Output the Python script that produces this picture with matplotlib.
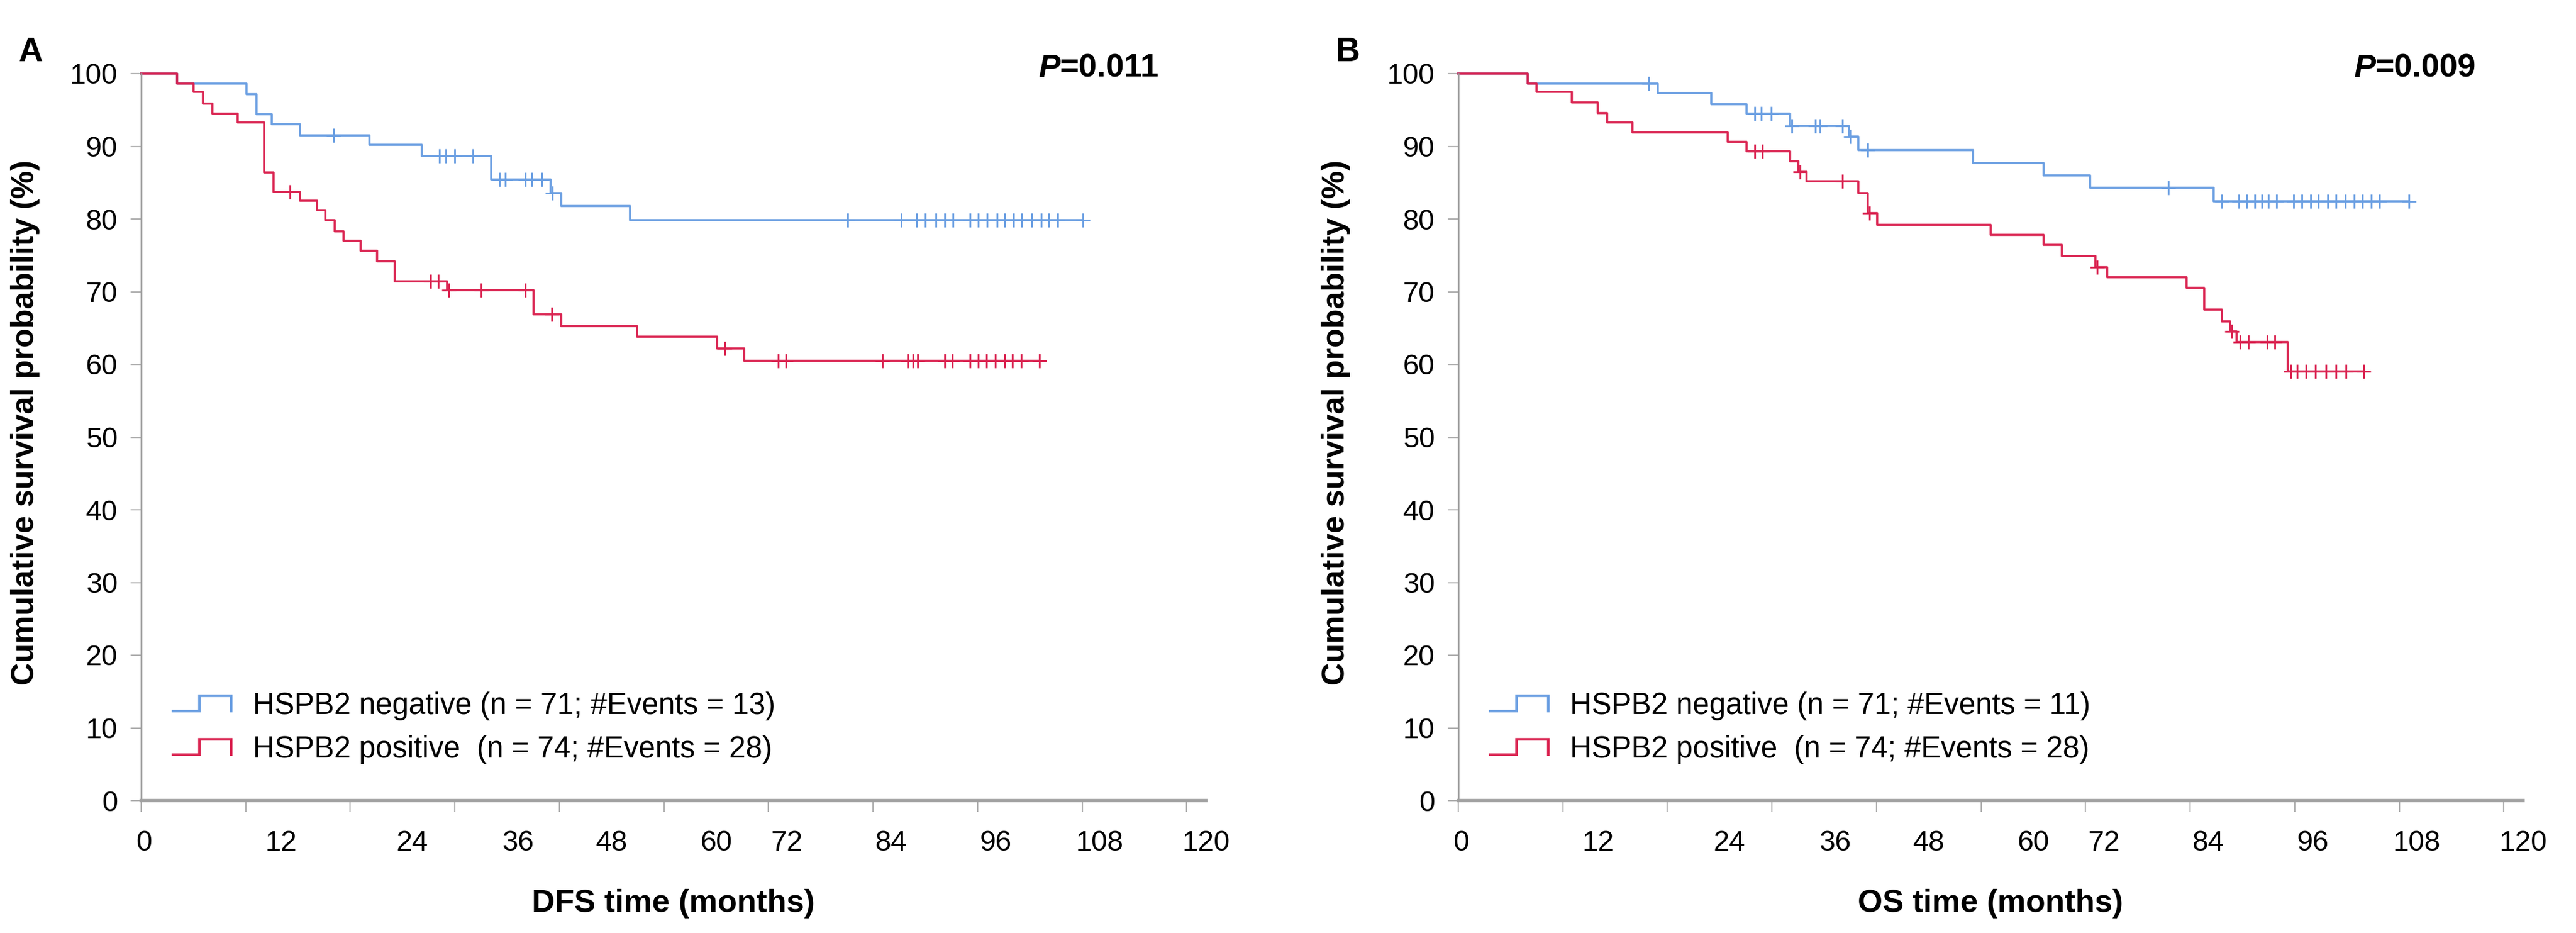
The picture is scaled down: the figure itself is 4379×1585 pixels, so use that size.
import numpy as np
import matplotlib.pyplot as plt
from matplotlib.legend_handler import HandlerBase
from matplotlib.lines import Line2D

plt.rcParams['font.family'] = ['Liberation Sans', 'DejaVu Sans']

# ---- data (months, survival %) ----
# panel A: disease free survival
dfs_neg_t = [4.1, 12.1, 13.2, 15.0, 18.2, 26.2, 32.2, 40.2, 47.0, 48.2, 56.1]
dfs_neg_s = [98.6, 97.2, 94.4, 93.0, 91.5, 90.2, 88.7, 85.4, 83.6, 81.8, 79.8]
dfs_neg_c = [22.1, 34.2, 35.0, 36.0, 38.1, 41.1, 41.8, 44.1, 44.8, 46.0, 47.2,
             81.1, 87.2, 89.0, 90.0, 91.2, 92.2, 93.2, 95.1, 96.1, 97.1, 98.2,
             99.1, 100.1, 101.1, 102.2, 103.3, 104.2, 105.2, 108.1]

dfs_pos_t = [4.1, 6.0, 7.1, 8.2, 11.1, 14.1, 15.2, 18.2, 20.2, 21.1, 22.2, 23.2,
             25.2, 27.1, 29.1, 35.1, 45.0, 48.2, 56.9, 66.1, 69.2]
dfs_pos_s = [98.6, 97.5, 95.9, 94.5, 93.3, 86.4, 83.7, 82.5, 81.2, 79.8, 78.3, 77.0,
             75.6, 74.2, 71.4, 70.2, 66.9, 65.3, 63.8, 62.2, 60.5]
dfs_pos_c = [17.1, 33.2, 34.1, 35.3, 39.0, 44.1, 47.1, 67.0, 73.1, 74.0, 85.1, 88.0,
             88.6, 89.1, 92.2, 93.1, 95.1, 96.1, 97.0, 98.0, 99.1, 100.0, 101.0, 103.1]

# panel B: overall survival
os_neg_t = [8.0, 22.9, 29.0, 33.1, 38.1, 44.8, 45.9, 59.1, 67.2, 72.5, 86.7]
os_neg_s = [98.6, 97.3, 95.8, 94.5, 92.8, 91.3, 89.5, 87.7, 86.0, 84.3, 82.4]
os_neg_c = [21.9, 34.0, 34.8, 35.9, 38.3, 41.0, 41.5, 44.1, 45.0, 47.0, 81.5, 87.6,
            89.6, 90.5, 91.4, 92.2, 93.0, 93.9, 95.9, 96.8, 97.8, 98.7, 99.8, 100.7,
            101.8, 102.8, 103.8, 104.8, 105.7, 109.1]

os_pos_t = [8.0, 9.0, 13.0, 16.0, 17.1, 20.0, 30.9, 33.1, 38.1, 39.0, 40.0, 45.9,
            47.0, 48.1, 61.1, 67.2, 69.3, 73.1, 74.5, 83.6, 85.6, 87.6, 88.6, 89.3, 95.2]
os_pos_s = [98.6, 97.5, 96.0, 94.6, 93.3, 91.9, 90.6, 89.3, 87.9, 86.5, 85.2, 83.6,
            80.8, 79.2, 77.8, 76.4, 74.9, 73.4, 72.0, 70.5, 67.5, 65.9, 64.5, 63.1, 59.0]
os_pos_c = [34.0, 34.9, 39.2, 44.1, 47.2, 73.3, 88.8, 89.7, 90.7, 92.8, 93.7, 95.5,
            96.3, 97.3, 98.4, 99.6, 100.7, 101.9, 103.9]

dfs_labels = ["HSPB2 negative (n = 71; #Events = 13)",
              "HSPB2 positive  (n = 74; #Events = 28)"]
os_labels = ["HSPB2 negative (n = 71; #Events = 11)",
             "HSPB2 positive  (n = 74; #Events = 28)"]
p_values = ["=0.011", "=0.009"]

x_ticks = list(range(0, 121, 12))
# tick labels in the original sit a little off their tick marks
x_label_pos = [0.3, 16.0, 31.1, 43.2, 54.0, 66.0, 74.1, 86.1, 98.1, 110.0, 122.2]
y_ticks = list(range(0, 101, 10))

BLUE = '#6b9fe2'
RED = '#da2451'
GREY = '#a0a0a0'
FS = 35


class StepHandler(HandlerBase):
    def create_artists(self, legend, orig_handle, xdescent, ydescent,
                       width, height, fontsize, trans):
        xs = np.array([0, 0.45, 0.45, 1, 1]) * width - xdescent
        ys = np.array([0.1, 0.1, 0.9, 0.9, 0.1]) * height - ydescent
        ln = Line2D(xs, ys, color=orig_handle.get_color(),
                    lw=3.2, solid_joinstyle='miter')
        ln.set_transform(trans)
        return [ln]


def km(ax, t, s, c, color):
    tt = np.array([0] + t)
    ss = np.array([100] + s)
    end = max(c[-1], t[-1])
    line, = ax.step(np.r_[tt, end], np.r_[ss, ss[-1]], where='post',
                    color=color, lw=2.6, clip_on=False)
    idx = np.searchsorted(tt, np.array(c), side='right') - 1
    ax.plot(c, ss[idx], ls='none', marker='+', ms=17, mew=2.2,
            color=color, clip_on=False)
    return line


def panel(ax, neg, pos, labels, xlabel, pval, letter, ylabel_x):
    h1 = km(ax, *neg, BLUE)
    h2 = km(ax, *pos, RED)

    ax.set_xlim(0, 120)
    ax.set_ylim(0, 100)
    for side in ['top', 'right']:
        ax.spines[side].set_visible(False)
    ax.spines['left'].set_color('#9a9a9a')
    ax.spines['left'].set_linewidth(2)
    ax.spines['bottom'].set_color(GREY)
    ax.spines['bottom'].set_linewidth(4)

    ax.set_yticks(y_ticks)
    ax.tick_params(axis='y', length=13, width=1.6, color='#b0b0b0',
                   labelsize=FS, pad=16)
    ax.set_xticks(x_ticks)
    ax.set_xticklabels([])
    ax.tick_params(axis='x', which='major', length=14, width=1.6, color='#b0b0b0')
    ax.set_xticks(x_label_pos, minor=True)
    ax.set_xticklabels([str(v) for v in x_ticks], minor=True)
    ax.tick_params(axis='x', which='minor', length=0, labelsize=FS, pad=36)

    ax.set_xlabel(xlabel, fontsize=39, fontweight='bold')
    ax.xaxis.set_label_coords(0.5, -0.142)
    ax.xaxis.label.set_va('center')
    ax.set_ylabel('Cumulative survival probability (%)', fontsize=38.5,
                  fontweight='bold')
    ax.yaxis.set_label_coords(ylabel_x, 0.52)
    ax.yaxis.label.set_va('center')

    ax.legend([h1, h2], labels, handler_map={Line2D: StepHandler()},
              loc='center left', bbox_to_anchor=(0.03, 0.10), frameon=False,
              fontsize=36.5, handlelength=1.95, handleheight=0.6,
              handletextpad=0.72, labelspacing=0.5, borderpad=0,
              borderaxespad=0)

    t1 = ax.text(0.956, 1.0065, pval, transform=ax.transAxes, ha='right',
                 va='center', fontsize=40, fontweight='bold')
    ax.annotate('P', xy=(0, 0), xycoords=t1, ha='right', va='bottom',
                fontsize=40, fontweight='bold', fontstyle='italic')
    ax.text(-0.104, 1.029, letter, transform=ax.transAxes, ha='center',
            va='center', fontsize=41, fontweight='bold')


fig = plt.figure(figsize=(43.79, 15.85), dpi=100)
axA = fig.add_axes([240 / 4379, 225 / 1585, 1810 / 4379, 1235 / 1585])
axB = fig.add_axes([2479 / 4379, 225 / 1585, 1810 / 4379, 1235 / 1585])

panel(axA, (dfs_neg_t, dfs_neg_s, dfs_neg_c), (dfs_pos_t, dfs_pos_s, dfs_pos_c),
      dfs_labels, 'DFS time (months)', p_values[0], 'A', -0.109)
panel(axB, (os_neg_t, os_neg_s, os_neg_c), (os_pos_t, os_pos_s, os_pos_c),
      os_labels, 'OS time (months)', p_values[1], 'B', -0.115)

fig.savefig('out.png', dpi=100, facecolor='white')
